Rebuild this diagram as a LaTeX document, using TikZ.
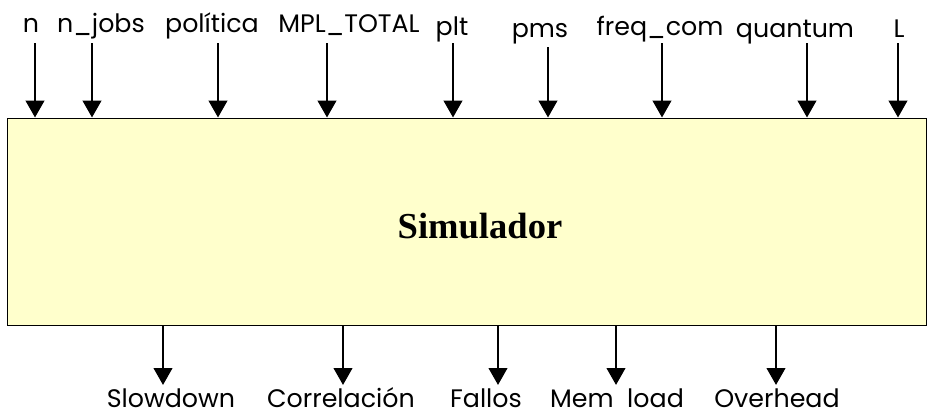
\documentclass[tikz,border=0pt]{standalone}
\usepackage{fontspec}
\setmainfont{Poppins}
\newfontfamily\titlefont{Liberation Serif}
\usepackage{tikz}
\usetikzlibrary{arrows.meta,positioning}
\definecolor{BoxYellow}{HTML}{FFFFCC}

\begin{document}
\begin{tikzpicture}[
    x=0.025cm, y=-0.025cm,
    simbox/.style={draw=black,fill=BoxYellow,line width=0.6pt,minimum width=22.95cm,minimum height=5.175cm,inner sep=0pt},
    param/.style={font=\fontsize{18}{19}\selectfont,anchor=base,inner sep=0pt},
    flow/.style={line width=2.1pt,-{Triangle[length=12pt,width=13pt]}},
  ]
  \useasboundingbox (0,0) rectangle (927,416);
  % The simulator block
  \node[simbox] (sim) at (467,221.5) {};
  \node[font=\titlefont\fontsize{26}{28}\selectfont\bfseries] (title) at (480,226) {Simulador};
  % Input parameters
  \node[param] (n)     at (31,32)  {n};
  \node[param] (njobs) at (101,32) {n\_jobs};
  \node[param] (pol)   at (212,32) {política};
  \node[param] (mpl)   at (349,32) {MPL\_TOTAL};
  \node[param] (plt)   at (452,35) {plt};
  \node[param] (pms)   at (540,37) {pms};
  \node[param] (freq)  at (660,35) {freq\_com};
  \node[param] (quant) at (795,37) {quantum};
  \node[param] (L)     at (899,37) {L};
  % Arrow start points above the block
  \coordinate (in1) at (35,43);
  \coordinate (in2) at (92,43);
  \coordinate (in3) at (218,43);
  \coordinate (in4) at (327,43);
  \coordinate (in5) at (453,43);
  \coordinate (in6) at (548,47);
  \coordinate (in7) at (662,43);
  \coordinate (in8) at (807,43);
  \coordinate (in9) at (898,43);
  \foreach \i in {1,...,9}
    \draw[flow] (in\i) -- (in\i |- sim.north);
  % Output measures
  \node[param] (slow) at (171,407) {Slowdown};
  \node[param] (corr) at (341,407) {Correlación};
  \node[param] (fall) at (486,407) {Fallos};
  \node[param] (mem)  at (617,407) {Mem\ \ load};
  \node[param] (over) at (777,407) {Overhead};
  \coordinate (out1) at (163,385);
  \coordinate (out2) at (343,385);
  \coordinate (out3) at (498,385);
  \coordinate (out4) at (616,385);
  \coordinate (out5) at (776,385);
  \foreach \i in {1,...,5}
    \draw[flow] (out\i |- sim.south) -- (out\i);
\end{tikzpicture}
\end{document}
